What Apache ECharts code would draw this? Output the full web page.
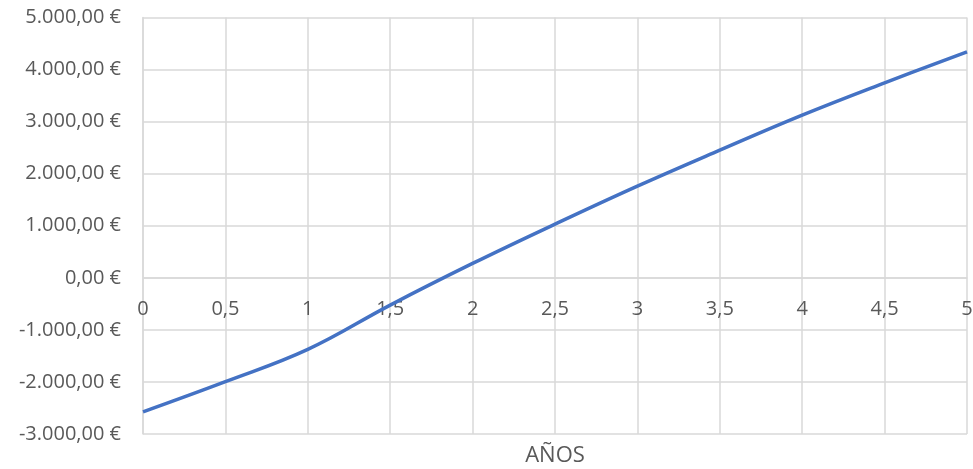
<!DOCTYPE html>
<html>
<head>
<meta charset="utf-8">
<script src="https://cdn.jsdelivr.net/npm/echarts@6/dist/echarts.min.js"></script>
<style>
  html, body { margin: 0; padding: 0; background: #fff; }
  #chart { width: 973px; height: 469px; }
</style>
</head>
<body>
<div id="chart"></div>
<script>
// Years (x) and cumulative cash flow in euros (y)
const years = [0, 0.5, 1, 1.5, 2, 2.5, 3, 3.5, 4, 4.5, 5];
const cashFlow = [-2575, -1995, -1375, -524, 276, 1031, 1761, 2452, 3125, 3745, 4340];
const yTicks = { min: -3000, max: 5000, step: 1000 };
const xTicks = { min: 0, max: 5, step: 0.5 };

const FONT = '"Open Sans"';
const GREY = '#595959';
const GRID = '#d9d9d9';

function euro(v) {
  const neg = v < 0;
  const abs = Math.abs(v);
  const intPart = Math.floor(abs).toString().replace(/\B(?=(\d{3})+(?!\d))/g, '.');
  const dec = (abs - Math.floor(abs)).toFixed(2).slice(2);
  return (neg ? '-' : '') + intPart + ',' + dec + ' €';
}

const chart = echarts.init(document.getElementById('chart'), null, { renderer: 'canvas' });
chart.setOption({
  animation: false,
  grid: { left: 143, right: 6, top: 17.5, bottom: 35, containLabel: false, outerBoundsMode: 'none' },
  xAxis: {
    type: 'value',
    min: xTicks.min, max: xTicks.max, interval: xTicks.step,
    axisLine: { onZero: false, lineStyle: { color: GRID, width: 1.5 } },
    axisTick: { show: false },
    splitLine: { show: true, lineStyle: { color: GRID, width: 1.5 } },
    axisLabel: {
      color: GREY, fontFamily: FONT, fontSize: 20, margin: 21,
      formatter: v => String(v).replace('.', ',')
    }
  },
  yAxis: {
    type: 'value',
    min: yTicks.min, max: yTicks.max, interval: yTicks.step,
    axisLine: { show: true, onZero: false, lineStyle: { color: GRID, width: 1.5 } },
    axisTick: { show: false },
    splitLine: { show: true, lineStyle: { color: GRID, width: 1.5 } },
    axisLabel: { color: GREY, fontFamily: FONT, fontSize: 20, margin: 22, formatter: euro }
  },
  graphic: [{
    type: 'text', x: 555, y: 456,
    style: { text: 'AÑOS', fill: GREY, font: '22px ' + FONT, textAlign: 'center', textVerticalAlign: 'middle' }
  }],
  series: [{
    type: 'line',
    data: years.map((x, i) => [x, cashFlow[i]]),
    smooth: 0.4,
    showSymbol: false,
    lineStyle: { color: '#4472C4', width: 3.5 }
  }]
});

// Lift the x axis (line and labels) up to the y = 0 level
const zeroY = chart.convertToPixel({ yAxisIndex: 0 }, 0);
const baseY = chart.convertToPixel({ yAxisIndex: 0 }, yTicks.min);
chart.setOption({ xAxis: { offset: zeroY - baseY } });
</script>
</body>
</html>
